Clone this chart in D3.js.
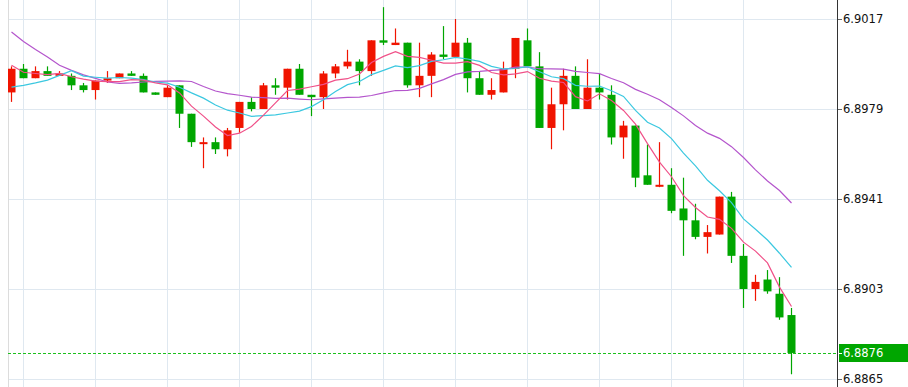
<!DOCTYPE html>
<html>
<head>
  <meta charset="utf-8">
  <title>Candlestick with moving averages</title>
  <script src="https://d3js.org/d3.v7.min.js"></script>
  <style>
    body { margin: 0; background: #fff; }
    svg { display: block; }
  </style>
</head>
<body>
  <div id="chart"></div>

  <script>
    // candles, oldest first
    var opens = [6.8986, 6.8996, 6.8992, 6.8995, 6.8993, 6.8993, 6.8989, 6.8987, 6.8991, 6.8992,
                 6.8994, 6.8993, 6.8986, 6.8984, 6.8989, 6.8977, 6.8965, 6.8965, 6.8962, 6.8971,
                 6.8982, 6.8979, 6.8989, 6.8988, 6.8996, 6.8985, 6.8984, 6.8994, 6.8997, 6.8999,
                 6.8995, 6.9008, 6.9006, 6.9007, 6.8989, 6.8993, 6.9002, 6.9001, 6.9007, 6.8992,
                 6.8985, 6.8986, 6.8996, 6.9008, 6.8997, 6.8971, 6.8981, 6.8993, 6.8979, 6.8988,
                 6.8985, 6.8967, 6.8972, 6.8951, 6.8947, 6.8947, 6.8937, 6.8932, 6.8925, 6.8926,
                 6.8942, 6.8917, 6.8903, 6.8907, 6.8901, 6.8892];
    var highs = [6.8997, 6.8998, 6.8997, 6.8997, 6.8995, 6.8994, 6.8990, 6.8991, 6.8995, 6.8994,
                 6.8995, 6.8994, 6.8986, 6.8989, 6.8989, 6.8977, 6.8967, 6.8967, 6.8971, 6.8982,
                 6.8984, 6.8990, 6.8992, 6.8996, 6.8998, 6.8985, 6.8995, 6.8998, 6.9004, 6.9000,
                 6.9008, 6.9022, 6.9013, 6.9007, 6.9007, 6.9003, 6.9014, 6.9017, 6.9009, 6.8995,
                 6.8992, 6.8999, 6.9009, 6.9013, 6.9003, 6.8988, 6.8996, 6.8997, 6.9000, 6.8994,
                 6.8989, 6.8974, 6.8972, 6.8964, 6.8965, 6.8954, 6.8950, 6.8939, 6.8930, 6.8942,
                 6.8944, 6.8922, 6.8909, 6.8911, 6.8908, 6.8895];
    var lows = [6.8982, 6.8992, 6.8992, 6.8993, 6.8993, 6.8987, 6.8986, 6.8983, 6.8990, 6.8992,
                6.8993, 6.8986, 6.8985, 6.8984, 6.8971, 6.8963, 6.8954, 6.8960, 6.8959, 6.8969,
                6.8978, 6.8979, 6.8985, 6.8983, 6.8985, 6.8976, 6.8979, 6.8992, 6.8996, 6.8989,
                6.8993, 6.9006, 6.9006, 6.8988, 6.8984, 6.8984, 6.9000, 6.9001, 6.8986, 6.8985,
                6.8983, 6.8986, 6.8992, 6.8997, 6.8971, 6.8962, 6.8970, 6.8979, 6.8979, 6.8983,
                6.8964, 6.8958, 6.8946, 6.8947, 6.8946, 6.8935, 6.8917, 6.8924, 6.8918, 6.8926,
                6.8914, 6.8895, 6.8898, 6.8901, 6.8890, 6.8867];
    var closes = [6.8996, 6.8992, 6.8995, 6.8993, 6.8994, 6.8989, 6.8987, 6.8991, 6.8992, 6.8994,
                  6.8993, 6.8986, 6.8985, 6.8988, 6.8977, 6.8965, 6.8965, 6.8962, 6.8970, 6.8982,
                  6.8979, 6.8989, 6.8988, 6.8996, 6.8985, 6.8984, 6.8994, 6.8997, 6.8999, 6.8995,
                  6.9008, 6.9007, 6.9007, 6.8989, 6.8993, 6.9002, 6.9001, 6.9007, 6.8992, 6.8985,
                  6.8987, 6.8996, 6.9009, 6.8997, 6.8971, 6.8981, 6.8993, 6.8979, 6.8988, 6.8986,
                  6.8967, 6.8972, 6.8950, 6.8947, 6.8947, 6.8936, 6.8932, 6.8925, 6.8927, 6.8942,
                  6.8917, 6.8903, 6.8906, 6.8902, 6.8891, 6.8876];

    // moving averages as drawn
    var ma5 = [6.89975, 6.89945, 6.89940, 6.89935, 6.89940, 6.89926, 6.89916, 6.89908, 6.89906, 6.89906,
               6.89914, 6.89912, 6.89900, 6.89892, 6.89858, 6.89802, 6.89760, 6.89714, 6.89678, 6.89688,
               6.89716, 6.89764, 6.89816, 6.89868, 6.89874, 6.89884, 6.89894, 6.89912, 6.89918, 6.89938,
               6.89986, 6.90012, 6.90032, 6.90012, 6.90008, 6.89996, 6.89984, 6.89984, 6.89990, 6.89974,
               6.89944, 6.89934, 6.89938, 6.89948, 6.89920, 6.89908, 6.89902, 6.89842, 6.89824, 6.89854,
               6.89826, 6.89784, 6.89726, 6.89644, 6.89566, 6.89504, 6.89424, 6.89374, 6.89334, 6.89324,
               6.89286, 6.89228, 6.89190, 6.89140, 6.89038, 6.88956];
    var ma10 = [6.89882, 6.89890, 6.89900, 6.89912, 6.89932, 6.89952, 6.89929, 6.89924, 6.89920, 6.89923,
                6.89920, 6.89914, 6.89904, 6.89899, 6.89882, 6.89858, 6.89836, 6.89807, 6.89785, 6.89773,
                6.89759, 6.89762, 6.89765, 6.89773, 6.89781, 6.89800, 6.89829, 6.89864, 6.89893, 6.89906,
                6.89935, 6.89953, 6.89972, 6.89965, 6.89973, 6.89991, 6.89998, 6.90008, 6.90001, 6.89991,
                6.89970, 6.89959, 6.89961, 6.89969, 6.89947, 6.89926, 6.89918, 6.89890, 6.89886, 6.89887,
                6.89867, 6.89843, 6.89784, 6.89734, 6.89710, 6.89665, 6.89604, 6.89550, 6.89489, 6.89445,
                6.89395, 6.89326, 6.89282, 6.89237, 6.89181, 6.89121];
    var ma20 = [6.90115, 6.90075, 6.90041, 6.90010, 6.89975, 6.89953, 6.89934, 6.89919, 6.89904, 6.89898,
                6.89900, 6.89904, 6.89907, 6.89908, 6.89909, 6.89906, 6.89885, 6.89866, 6.89855, 6.89848,
                6.89840, 6.89838, 6.89835, 6.89836, 6.89832, 6.89829, 6.89833, 6.89836, 6.89839, 6.89840,
                6.89847, 6.89858, 6.89868, 6.89869, 6.89877, 6.89896, 6.89914, 6.89936, 6.89947, 6.89949,
                6.89953, 6.89956, 6.89967, 6.89967, 6.89960, 6.89959, 6.89958, 6.89949, 6.89944, 6.89939,
                6.89919, 6.89901, 6.89873, 6.89852, 6.89829, 6.89796, 6.89761, 6.89720, 6.89688, 6.89666,
                6.89631, 6.89585, 6.89533, 6.89486, 6.89446, 6.89393];

    var yTicks = [6.9017, 6.8979, 6.8941, 6.8903, 6.8865];
    var lastPrice = 6.8876;

    var width = 908, height = 387;
    var plotLeft = 8, plotRight = 837;
    var upColor = "#f01400", downColor = "#00a600";

    var svg = d3.select("#chart")
      .append("svg")
      .attr("width", width)
      .attr("height", height);

    // one slot = 12px, candle centres
    var x = d3.scaleLinear().domain([0, 1]).range([11.5, 23.5]);
    var y = d3.scaleLinear()
      .domain([yTicks[yTicks.length - 1], yTicks[0]])
      .range([379, 19]);

    svg.append("clipPath").attr("id", "plot")
      .append("rect")
      .attr("x", plotLeft).attr("y", 0)
      .attr("width", plotRight - plotLeft).attr("height", height);

    var grid = svg.append("g").attr("shape-rendering", "crispEdges");

    grid.selectAll(".hgrid")
      .data(yTicks)
      .enter().append("line")
      .attr("x1", plotLeft).attr("x2", plotRight)
      .attr("y1", function(d) { return Math.round(y(d)) + 0.5; })
      .attr("y2", function(d) { return Math.round(y(d)) + 0.5; })
      .attr("stroke", "#dfe8f0");

    var gridIdx = d3.range(1, closes.length, 6);
    grid.selectAll(".vgrid")
      .data(gridIdx)
      .enter().append("line")
      .attr("x1", function(d) { return x(d); })
      .attr("x2", function(d) { return x(d); })
      .attr("y1", 0).attr("y2", height)
      .attr("stroke", "#dfe8f0");

    grid.append("line")
      .attr("x1", plotLeft + 0.5).attr("x2", plotLeft + 0.5)
      .attr("y1", 0).attr("y2", height)
      .attr("stroke", "#dcdcdc");

    var plot = svg.append("g").attr("clip-path", "url(#plot)");

    var candles = plot.selectAll(".candle")
      .data(closes)
      .enter().append("g")
      .attr("class", "candle");

    candles.append("line")
      .attr("x1", function(d, i) { return x(i); })
      .attr("x2", function(d, i) { return x(i); })
      .attr("y1", function(d, i) { return y(highs[i]); })
      .attr("y2", function(d, i) { return y(lows[i]); })
      .attr("stroke-width", 1.2)
      .attr("stroke", function(d, i) { return d >= opens[i] ? upColor : downColor; });

    candles.append("rect")
      .attr("x", function(d, i) { return x(i) - 4; })
      .attr("width", 8)
      .attr("y", function(d, i) { return y(Math.max(d, opens[i])); })
      .attr("height", function(d, i) { return Math.max(2, Math.abs(y(d) - y(opens[i]))); })
      .attr("fill", function(d, i) { return d >= opens[i] ? upColor : downColor; });

    var line = d3.line()
      .x(function(d, i) { return x(i); })
      .y(function(d) { return y(d); });

    plot.append("path").datum(ma20)
      .attr("d", line).attr("fill", "none")
      .attr("stroke", "#b455cc").attr("stroke-width", 1.2);
    plot.append("path").datum(ma10)
      .attr("d", line).attr("fill", "none")
      .attr("stroke", "#3cc8e0").attr("stroke-width", 1.2);
    plot.append("path").datum(ma5)
      .attr("d", line).attr("fill", "none")
      .attr("stroke", "#f05088").attr("stroke-width", 1.2);

    // last price dotted line
    svg.append("line")
      .attr("x1", plotLeft).attr("x2", plotRight)
      .attr("y1", Math.round(y(lastPrice)) + 0.5)
      .attr("y2", Math.round(y(lastPrice)) + 0.5)
      .attr("stroke", "#1cc01c")
      .attr("stroke-width", 1)
      .attr("stroke-dasharray", "3,2");

    // price axis on the right
    var axis = svg.append("g")
      .attr("transform", "translate(" + plotRight + ",0)")
      .call(d3.axisRight(y)
        .tickValues(yTicks)
        .tickSize(5)
        .tickPadding(1)
        .tickFormat(d3.format(".4f")));
    axis.select(".domain").remove();
    axis.selectAll(".tick line").attr("stroke", "#666");
    axis.selectAll(".tick text")
      .attr("fill", "#111")
      .style("font-family", "'DejaVu Sans', Verdana, sans-serif")
      .style("font-size", "11.5px");

    svg.append("line")
      .attr("x1", plotRight + 0.5).attr("x2", plotRight + 0.5)
      .attr("y1", 0).attr("y2", height)
      .attr("stroke", "#333")
      .attr("shape-rendering", "crispEdges");

    var ly = Math.round(y(lastPrice));
    svg.append("rect")
      .attr("x", plotRight + 2).attr("y", ly - 9)
      .attr("width", width - plotRight - 2).attr("height", 18)
      .attr("fill", "#00a600");
    svg.append("line")
      .attr("x1", plotRight + 1).attr("x2", plotRight + 5)
      .attr("y1", ly + 0.5).attr("y2", ly + 0.5)
      .attr("stroke", "#fff");
    svg.append("text")
      .attr("x", plotRight + 6).attr("y", ly)
      .attr("dy", "0.32em")
      .attr("fill", "#fff")
      .style("font-family", "'DejaVu Sans', Verdana, sans-serif")
      .style("font-size", "11.5px")
      .text(d3.format(".4f")(lastPrice));
  </script>
</body>
</html>
